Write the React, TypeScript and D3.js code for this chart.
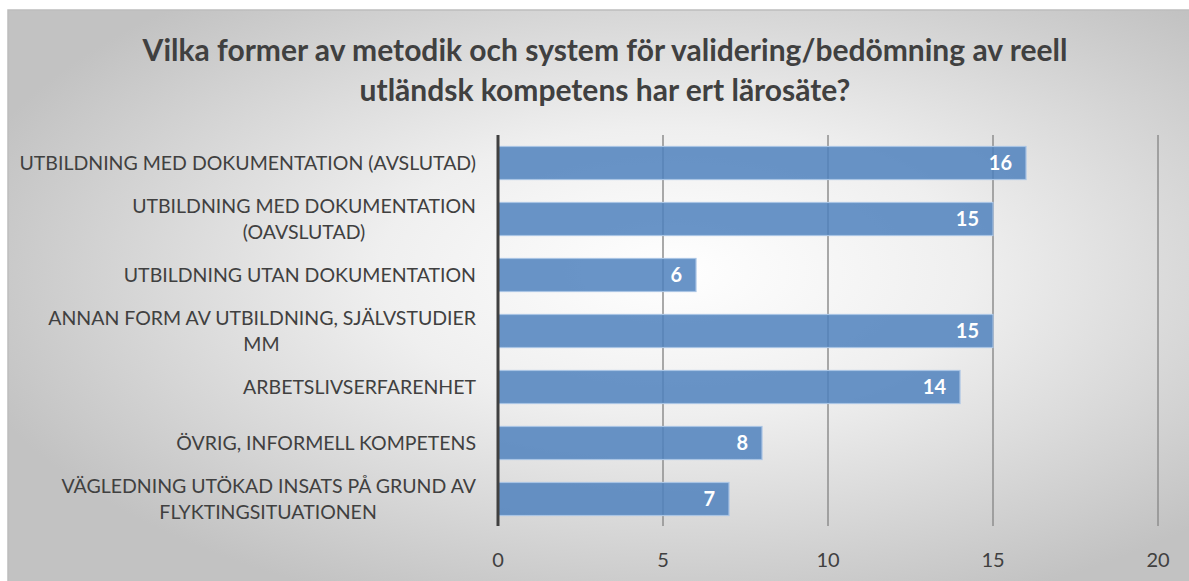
import React from "react";
import * as d3 from "d3";

const title = [
  "Vilka former av metodik och system för validering/bedömning av reell",
  "utländsk kompetens har ert lärosäte?",
];
const categories = [
  "UTBILDNING MED DOKUMENTATION (AVSLUTAD)",
  "UTBILDNING MED DOKUMENTATION\n(OAVSLUTAD)",
  "UTBILDNING UTAN DOKUMENTATION",
  "ANNAN FORM AV UTBILDNING, SJÄLVSTUDIER\nMM",
  "ARBETSLIVSERFARENHET",
  "ÖVRIG, INFORMELL KOMPETENS",
  "VÄGLEDNING UTÖKAD INSATS PÅ GRUND AV\nFLYKTINGSITUATIONEN",
];
const values = [16, 15, 6, 15, 14, 8, 7];
const xTicks = [0, 5, 10, 15, 20];

const W = 1189;
const H = 581;
const FONT = "Lato, 'Open Sans', sans-serif";
const LABEL_SIZE = 19.5;

let ctx: CanvasRenderingContext2D | null = null;
function measure(text: string, size: number) {
  if (!ctx) ctx = document.createElement("canvas").getContext("2d");
  if (!ctx) return text.length * size * 0.6;
  ctx.font = `${size}px Lato`;
  return ctx.measureText(text).width;
}

export default function App() {
  const x = d3.scaleLinear().domain([0, 20]).range([498, 1158]);
  const y = d3
    .scaleBand<string>()
    .domain(categories)
    .range([135, 527])
    .paddingInner(0.41)
    .paddingOuter(0.205);
  const bw = y.bandwidth();
  const textColor = "#404040";
  const labelRight = 476;

  return (
    <svg
      width={W}
      height={H}
      style={{ position: "absolute", left: 0, top: 0 }}
      fontFamily={FONT}
    >
      <defs>
        <radialGradient id="bg" cx="0.56" cy="0.45" r="0.62">
          <stop offset="0" stopColor="#ffffff" />
          <stop offset="0.4" stopColor="#efefef" />
          <stop offset="1" stopColor="#c2c2c2" />
        </radialGradient>
      </defs>
      <rect x={0} y={0} width={W} height={H} fill="#ffffff" />
      <rect x={8} y={10} width={W} height={H} fill="url(#bg)" stroke="#bdbdbd" strokeWidth={1.5} />
      {title.map((t, i) => (
        <text
          key={i}
          x={605}
          y={61 + i * 40}
          textAnchor="middle"
          fontSize={30}
          fontWeight="bold"
          fill={textColor}
        >
          {t}
        </text>
      ))}
      {xTicks.map((t) => (
        <g key={t}>
          {t !== 0 && (
            <line x1={x(t)} x2={x(t)} y1={135} y2={526} stroke="#8e8e8e" strokeWidth={1.5} />
          )}
          <text x={x(t)} y={567} textAnchor="middle" fontSize={20} fill={textColor}>
            {t}
          </text>
        </g>
      ))}
      {categories.map((c, i) => {
        const y0 = y(c)!;
        const v = values[i];
        return (
          <g key={c}>
            <rect
              x={x(0)}
              y={y0}
              width={x(v) - x(0)}
              height={bw}
              fill="#4f81bd"
              fillOpacity={0.85}
              stroke="#a9c4e4"
              strokeWidth={1.2}
            />
            <text
              x={x(v) - 14}
              y={y0 + bw / 2 + 7}
              textAnchor="end"
              fontSize={20}
              fontWeight="bold"
              fill="#ffffff"
            >
              {v}
            </text>
          </g>
        );
      })}
      {categories.map((c, i) => {
        const lines = c.split("\n");
        const cy = y(c)! + bw / 2;
        const lh = 26;
        const start = cy - ((lines.length - 1) * lh) / 2 + 7;
        const firstW = measure(lines[0], LABEL_SIZE);
        return (
          <text key={"l" + i} fontSize={LABEL_SIZE} fill={textColor}>
            {lines.map((l, j) => (
              <tspan
                key={j}
                x={j === 0 ? labelRight : labelRight - firstW / 2}
                y={start + j * lh}
                textAnchor={j === 0 ? "end" : "middle"}
              >
                {l}
              </tspan>
            ))}
          </text>
        );
      })}
      <line x1={x(0)} x2={x(0)} y1={135} y2={526} stroke="#404040" strokeWidth={3} />
    </svg>
  );
}
